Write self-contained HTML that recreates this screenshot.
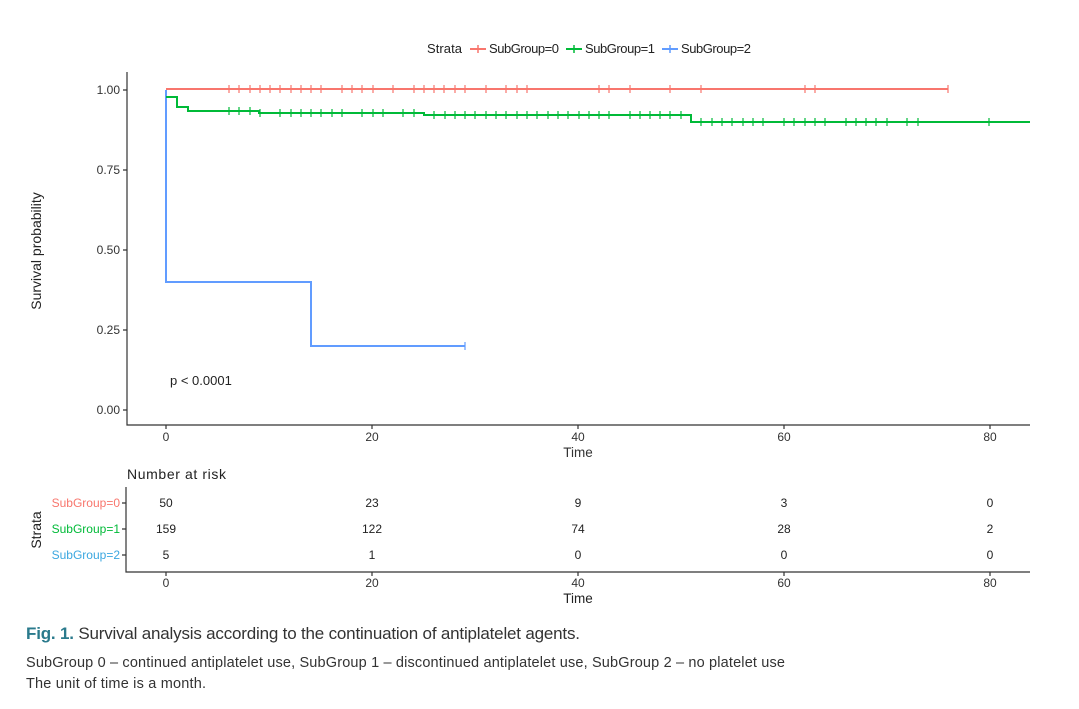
<!DOCTYPE html>
<html><head><meta charset="utf-8"><style>
body{margin:0;background:#fff;width:1079px;height:704px;overflow:hidden;font-family:"Liberation Sans",sans-serif}
svg text{font-family:"Liberation Sans",sans-serif}
</style></head><body>
<svg width="1079" height="704" viewBox="0 0 1079 704" xmlns="http://www.w3.org/2000/svg">
<!-- legend -->
<text x="427" y="53" font-size="13" fill="#222" textLength="35">Strata</text>
<line x1="470" y1="49" x2="486" y2="49" stroke="#F8766D" stroke-width="2"/><line x1="478" y1="45" x2="478" y2="53" stroke="#F8766D" stroke-width="1.5"/>
<text x="489" y="53" font-size="13" fill="#222" textLength="70">SubGroup=0</text>
<line x1="566" y1="49" x2="582" y2="49" stroke="#00BA38" stroke-width="2"/><line x1="574" y1="45" x2="574" y2="53" stroke="#00BA38" stroke-width="1.5"/>
<text x="585" y="53" font-size="13" fill="#222" textLength="70">SubGroup=1</text>
<line x1="662" y1="49" x2="678" y2="49" stroke="#619CFF" stroke-width="2"/><line x1="670" y1="45" x2="670" y2="53" stroke="#619CFF" stroke-width="1.5"/>
<text x="681" y="53" font-size="13" fill="#222" textLength="70">SubGroup=2</text>
<!-- axes -->
<g stroke="#333" stroke-width="1.2" fill="none">
<path d="M127 72V425H1030"/>
<path d="M123 90h4M123 170h4M123 250h4M123 330h4M123 410h4"/>
<path d="M166 425v4M372 425v4M578 425v4M784 425v4M990 425v4"/>
</g>
<g font-size="12" fill="#333" text-anchor="end">
<text x="120" y="94">1.00</text><text x="120" y="174">0.75</text><text x="120" y="254">0.50</text><text x="120" y="334">0.25</text><text x="120" y="414">0.00</text>
</g>
<g font-size="12" fill="#333" text-anchor="middle">
<text x="166" y="441">0</text><text x="372" y="441">20</text><text x="578" y="441">40</text><text x="784" y="441">60</text><text x="990" y="441">80</text>
<text x="578" y="457" font-size="13.5">Time</text>
</g>
<text transform="translate(41,251) rotate(-90)" font-size="14" fill="#222" text-anchor="middle">Survival probability</text>
<text x="170" y="385" font-size="13" fill="#222">p &lt; 0.0001</text>
<!-- curves -->
<g fill="none" stroke-width="2">
<path d="M166 89H948" stroke="#F8766D"/>
<path d="M166 90V282H311V346H465" stroke="#619CFF"/>
<path d="M166 97H177V107H188V111H259V113H424V115H691V122H1030" stroke="#00BA38"/>
</g>
<g fill="none" stroke-width="1.2">
<path stroke="#F8766D" d="M229 85v8M239 85v8M250 85v8M260 85v8M270 85v8M280 85v8M291 85v8M301 85v8M311 85v8M321 85v8M342 85v8M352 85v8M362 85v8M373 85v8M393 85v8M414 85v8M424 85v8M434 85v8M444 85v8M455 85v8M465 85v8M486 85v8M506 85v8M517 85v8M527 85v8M599 85v8M609 85v8M630 85v8M670 85v8M701 85v8M805 85v8M815 85v8M948 85v8"/>
<path stroke="#619CFF" d="M465 342v8"/>
<path stroke="#00BA38" d="M229 107v8M239 107v8M250 107v8M260 109v8M280 109v8M291 109v8M301 109v8M311 109v8M321 109v8M332 109v8M342 109v8M362 109v8M373 109v8M383 109v8M403 109v8M414 109v8M434 111v8M445 111v8M455 111v8M465 111v8M475 111v8M486 111v8M496 111v8M506 111v8M517 111v8M527 111v8M537 111v8M548 111v8M558 111v8M568 111v8M579 111v8M589 111v8M599 111v8M609 111v8M630 111v8M640 111v8M650 111v8M660 111v8M670 111v8M681 111v8M701 118v8M712 118v8M722 118v8M732 118v8M743 118v8M753 118v8M763 118v8M784 118v8M794 118v8M805 118v8M815 118v8M825 118v8M846 118v8M856 118v8M866 118v8M876 118v8M887 118v8M907 118v8M918 118v8M989 118v8"/>
</g>
<!-- risk table -->
<text x="127" y="479" font-size="14" fill="#222" textLength="99">Number at risk</text>
<g stroke="#333" stroke-width="1.2" fill="none">
<path d="M126 487V572H1030"/>
<path d="M122 503h4M122 529h4M122 555h4"/>
<path d="M166 572v4M372 572v4M578 572v4M784 572v4M990 572v4"/>
</g>
<g font-size="12" text-anchor="end">
<text x="120" y="507" fill="#F8766D">SubGroup=0</text>
<text x="120" y="533" fill="#00BA38">SubGroup=1</text>
<text x="120" y="559" fill="#3BA7E0">SubGroup=2</text>
</g>
<text transform="translate(41,530) rotate(-90)" font-size="14" fill="#222" text-anchor="middle">Strata</text>
<g font-size="12" fill="#222" text-anchor="middle">
<text x="166" y="507">50</text><text x="372" y="507">23</text><text x="578" y="507">9</text><text x="784" y="507">3</text><text x="990" y="507">0</text>
<text x="166" y="533">159</text><text x="372" y="533">122</text><text x="578" y="533">74</text><text x="784" y="533">28</text><text x="990" y="533">2</text>
<text x="166" y="559">5</text><text x="372" y="559">1</text><text x="578" y="559">0</text><text x="784" y="559">0</text><text x="990" y="559">0</text>
<text x="166" y="587" fill="#333">0</text><text x="372" y="587" fill="#333">20</text><text x="578" y="587" fill="#333">40</text><text x="784" y="587" fill="#333">60</text><text x="990" y="587" fill="#333">80</text>
<text x="578" y="603" font-size="13.5">Time</text>
</g>
<!-- caption -->
<text x="26" y="639" font-size="17" fill="#333" textLength="554"><tspan fill="#2a7a8c" font-weight="bold">Fig. 1.</tspan> Survival analysis according to the continuation of antiplatelet agents.</text>
<text x="26" y="667" font-size="14.5" fill="#333" textLength="759">SubGroup 0 – continued antiplatelet use, SubGroup 1 – discontinued antiplatelet use, SubGroup 2 – no platelet use</text>
<text x="26" y="688" font-size="14.5" fill="#333" textLength="180">The unit of time is a month.</text>
</svg>
</body></html>
